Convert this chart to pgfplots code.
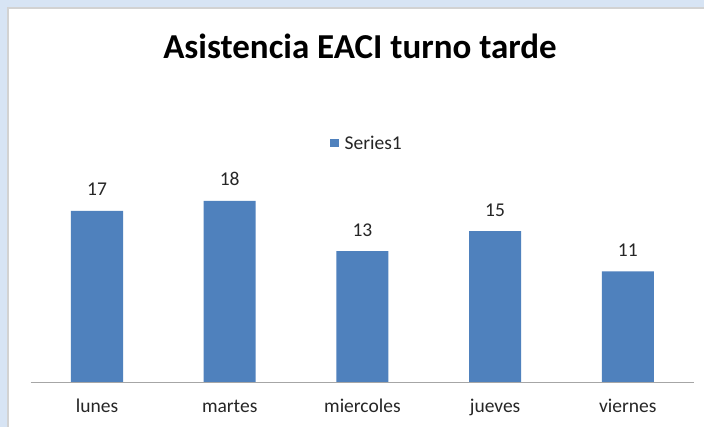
\documentclass[border=0pt]{standalone}
\usepackage{fontspec}
\setmainfont{Carlito}
\usepackage{pgfplots}
\pgfplotsset{compat=1.18}
\definecolor{barblue}{HTML}{4F81BD}
\definecolor{bgblue}{HTML}{D7E4F4}
\definecolor{txt}{HTML}{262626}
\begin{document}
\begin{tikzpicture}[x=1pt,y=1pt]
\clip (0,0) rectangle (704,427);
\fill[bgblue] (0,0) rectangle (704,427);
\fill[gray!35] (7,-10) rectangle (720,420);
\fill[white] (9,-10) rectangle (720,418);
\begin{axis}[
  scale only axis,
  width=663.5pt, height=281.7pt,
  anchor=south west, at={(30.65pt,45pt)},
  xmin=-0.5, xmax=4.5, ymin=0, ymax=28,
  axis x line*=bottom,
  axis y line=none,
  x axis line style={draw=gray!70, line width=0.8pt, -},
  xtick={0,1,2,3,4},
  xticklabels={lunes,martes,miercoles,jueves,viernes},
  major tick length=0pt,
  xticklabel style={font=\fontsize{19.5}{22}\selectfont, text=txt, anchor=base, yshift=-31pt, inner sep=0pt},
  ytick=\empty,
  ybar, bar width=52pt,
  nodes near coords,
  nodes near coords style={font=\fontsize{19.5}{22}\selectfont, text=txt, anchor=base, inner sep=0pt, yshift=15pt},
  /pgf/number format/assume math mode=true,
  legend style={at={(0.507,0.848)}, anchor=center, draw=none, fill=none, column sep=4pt,
    font=\fontsize{19.5}{22}\selectfont, text=txt},
  legend image code/.code={\fill[barblue] (0pt,-4pt) rectangle (8.5pt,4.5pt);},
]
\addplot[fill=barblue, draw=none] coordinates {(0,17) (1,18) (2,13) (3,15) (4,11)};
\addlegendentry{Series1}
\end{axis}
\node[font=\bfseries\fontsize{35}{40}\selectfont, anchor=base] at (360,368) {Asistencia EACI turno tarde};
\end{tikzpicture}
\end{document}
